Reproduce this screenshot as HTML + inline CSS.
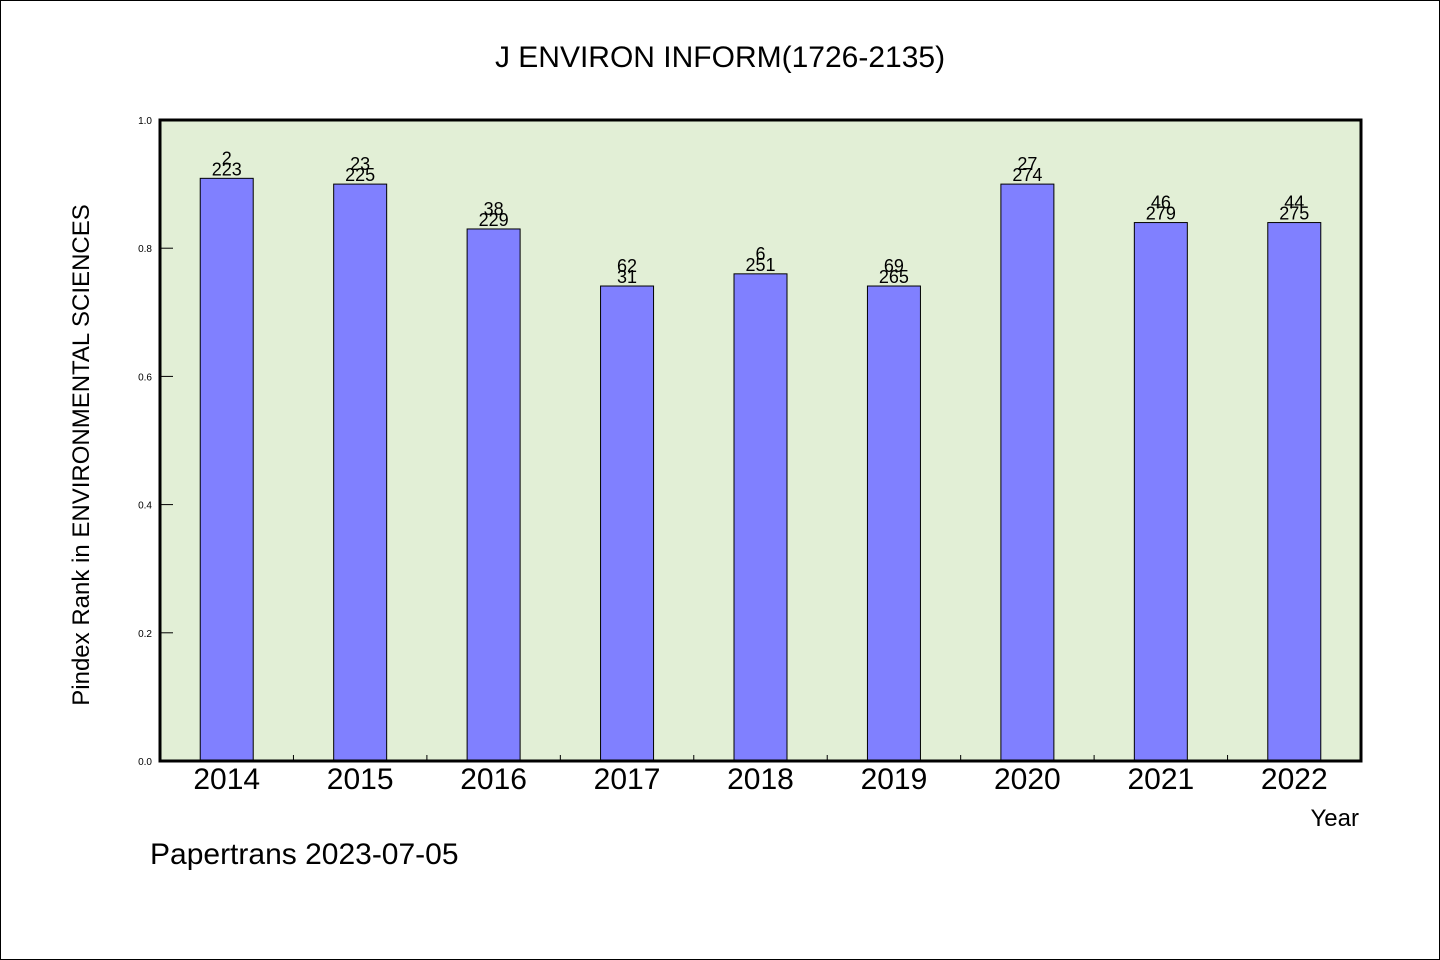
<!DOCTYPE html>
<html><head><meta charset="utf-8"><style>
html,body{margin:0;padding:0;background:#fff}
svg{display:block;font-family:"WenQuanYi Zen Hei","Liberation Sans",sans-serif}
</style></head><body>
<svg id="chart" width="1440" height="960" xmlns="http://www.w3.org/2000/svg">
<rect x="0.5" y="0.5" width="1439" height="959" fill="#fff" stroke="#000"/>
<text x="720" y="67" font-size="30" text-anchor="middle">J ENVIRON INFORM(1726-2135)</text>
<rect x="160" y="120" width="1201" height="641" fill="#e2efd6"/>
<g id="bars"></g>
<g id="ticks"></g>
<rect x="160" y="120" width="1201" height="641" fill="none" stroke="#000" stroke-width="3"/>
<text transform="translate(89,455) rotate(-90)" font-size="24" text-anchor="middle">Pindex Rank in ENVIRONMENTAL SCIENCES</text>
<text x="1359" y="826" font-size="24" text-anchor="end">Year</text>
<text x="150" y="864" font-size="30">Papertrans 2023-07-05</text>
</svg>
<script>
const years = ["2014","2015","2016","2017","2018","2019","2020","2021","2022"];
const values = [0.909,0.90,0.83,0.741,0.76,0.741,0.90,0.84,0.84];
const ranks = ["2","23","38","62","6","69","27","46","44"];
const totals = ["223","225","229","31","251","265","274","279","275"];
const yTicks = [0,0.2,0.4,0.6,0.8,1.0];
const yTickLabels = ["0.0","0.2","0.4","0.6","0.8","1.0"];
const NS="http://www.w3.org/2000/svg";
const X0=160,X1=1361,Y0=761,Y1=120;
const band=(X1-X0)/years.length;
const xc=i=>X0+band*(i+0.5);
const y=v=>Y0-(Y0-Y1)*v;
function mk(t,a,p){const e=document.createElementNS(NS,t);for(const k in a)e.setAttribute(k,a[k]);p.appendChild(e);return e;}
const bars=document.getElementById('bars'), ticks=document.getElementById('ticks');
const bw=53;
years.forEach((yr,i)=>{
  const top=y(values[i]);
  const r=mk('rect',{x:xc(i)-bw/2,y:top,width:bw,height:Y0-top,fill:'#8080ff',stroke:'#000','stroke-width':1},bars);
  
  
  const t1=mk('text',{x:xc(i),y:top-14,'font-size':18,'text-anchor':'middle'},bars);
  t1.textContent=ranks[i];
  
  
  const t2=mk('text',{x:xc(i),y:top-3,'font-size':18,'text-anchor':'middle'},bars);
  t2.textContent=totals[i];
  
  
  const xl=mk('text',{x:xc(i),y:789,'font-size':30,'text-anchor':'middle'},ticks);
  xl.textContent=yr;
  
  
  if(i>0){
    const tk=mk('line',{x1:X0+band*i,x2:X0+band*i,y1:Y0,y2:Y0-6,stroke:'#000'},ticks);
    
    
  }
});
yTicks.forEach((v,i)=>{
  const ln=mk('line',{x1:X0,x2:X0+13,y1:y(v),y2:y(v),stroke:'#000'},ticks);
  
  
  const t=mk('text',{x:152,y:y(v)+4,'font-size':10,'text-anchor':'end'},ticks);
  t.textContent=yTickLabels[i];
  
  
});
</script>
</body></html>
